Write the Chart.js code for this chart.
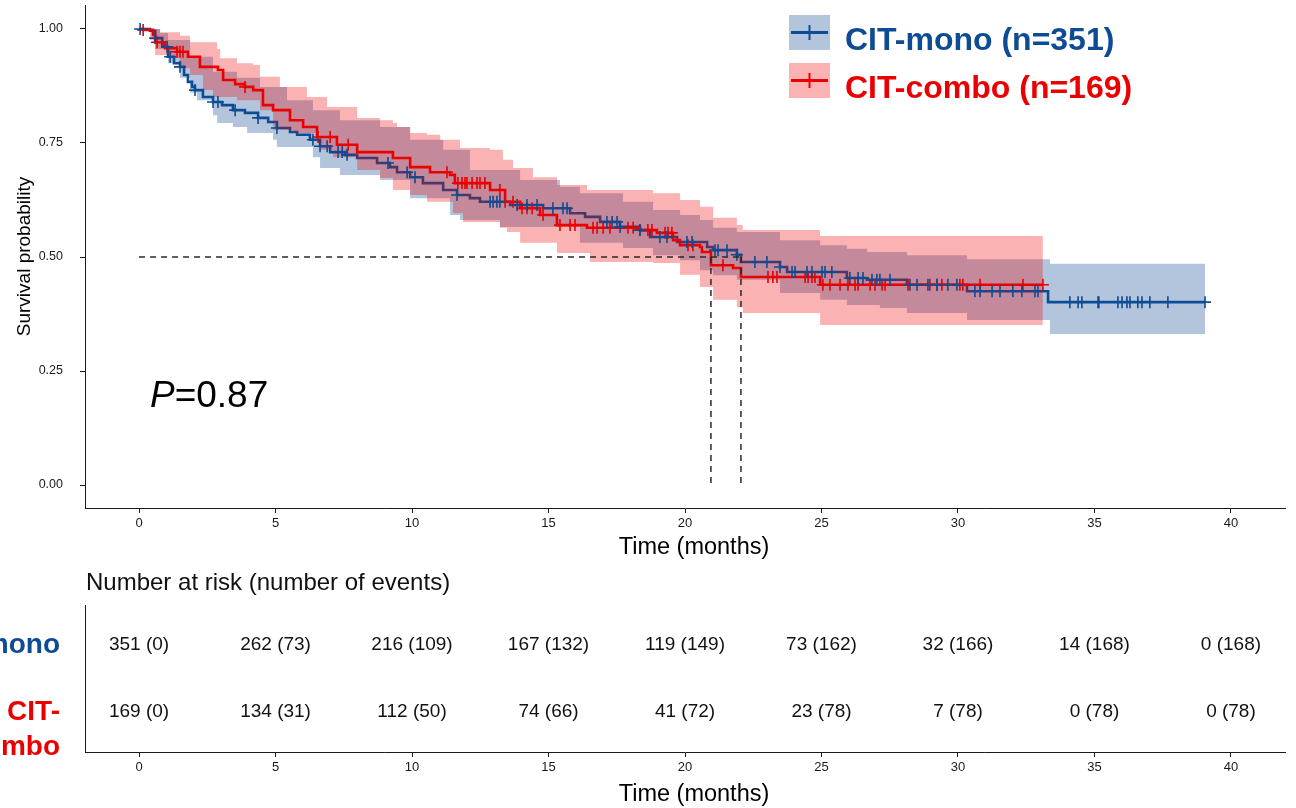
<!DOCTYPE html>
<html><head><meta charset="utf-8">
<script src="https://cdn.jsdelivr.net/npm/chart.js@4.4.1/dist/chart.umd.min.js"></script>
<style>
html,body{margin:0;padding:0;background:#fff;overflow:hidden;width:1296px;height:808px;}
#main{position:absolute;left:0;top:0;width:1296px;height:565px;}
#risk{position:absolute;left:0;top:565px;width:1296px;height:243px;}
</style></head><body>
<canvas id="main" width="1296" height="565"></canvas>
<canvas id="risk" width="1296" height="243"></canvas>
<script>
// ---------------- DATA ----------------
const xTicks = [0,5,10,15,20,25,30,35,40];
const yTicks = [0,0.25,0.5,0.75,1];

const groupLabels = ['CIT-mono (n=351)','CIT-combo (n=169)'];
const xTitle = 'Time (months)';
const yTitle = 'Survival probability';
const riskTitle = 'Number at risk (number of events)';

// Kaplan-Meier step curves (time in months, survival probability)
const monoTime = [0,0.40,0.59,0.85,1.06,1.28,1.50,1.65,1.79,1.94,2.05,2.34,2.71,3.04,3.44,3.88,4.36,4.73,5.05,5.53,5.79,6.26,6.63,7.00,7.55,7.99,8.72,9.19,9.45,9.93,10.40,11.14,11.65,12.12,12.49,13.59,14.80,15.79,16.34,16.89,17.62,18.35,18.72,19.71,20.81,21.03,21.90,22.05,23.48,23.74,25.93,26.67,28.13,30.33,33.30,39.05];
const monoSurv = [1.0,0.996,0.980,0.961,0.939,0.925,0.917,0.899,0.884,0.873,0.866,0.851,0.840,0.833,0.822,0.816,0.805,0.796,0.783,0.774,0.768,0.757,0.743,0.730,0.724,0.717,0.706,0.697,0.686,0.675,0.662,0.647,0.636,0.629,0.621,0.614,0.607,0.596,0.588,0.577,0.566,0.559,0.544,0.533,0.522,0.515,0.505,0.489,0.478,0.467,0.454,0.450,0.439,0.425,0.401,0.401];

const comboTime = [0,0.15,0.51,0.59,0.95,1.39,1.79,2.23,2.89,3.08,3.52,3.88,4.18,4.54,4.91,5.53,6.01,6.52,7.25,7.99,9.30,9.93,10.66,11.39,11.57,12.86,13.41,13.96,14.69,15.31,16.41,18.35,18.97,19.56,19.82,20.55,20.62,20.95,21.76,22.05,24.95,33.11];
const comboSurv = [1.0,0.998,0.987,0.971,0.958,0.950,0.939,0.917,0.910,0.888,0.879,0.873,0.866,0.833,0.822,0.800,0.785,0.763,0.746,0.730,0.717,0.697,0.686,0.680,0.662,0.647,0.621,0.607,0.592,0.570,0.564,0.559,0.553,0.537,0.526,0.522,0.511,0.482,0.476,0.456,0.439,0.439];

// 95% confidence bands
const monoHiTime = [0,0.77,1.06,1.87,2.71,3.59,4.43,5.42,6.37,7.36,8.83,9.93,11.14,12.12,13.96,15.42,16.15,17.73,18.83,19.82,20.55,21.03,21.90,23.48,24.95,25.93,26.67,28.13,30.33,33.37,39.05];
const monoHi = [1.0,0.991,0.976,0.939,0.906,0.893,0.873,0.844,0.822,0.800,0.785,0.757,0.735,0.691,0.669,0.654,0.640,0.621,0.603,0.592,0.581,0.564,0.555,0.537,0.526,0.518,0.511,0.504,0.495,0.485,0.485];
const monoLoTime = [0,0.59,1.06,1.50,1.87,2.12,2.71,2.86,3.44,3.96,4.91,5.05,6.37,6.63,7.36,8.83,9.93,11.39,11.76,13.22,16.15,17.73,18.83,19.82,20.55,21.03,21.90,23.48,24.95,25.93,27.14,28.13,30.33,33.37,39.05];
const monoLo = [1.0,0.956,0.925,0.893,0.860,0.844,0.811,0.794,0.785,0.772,0.757,0.741,0.719,0.695,0.680,0.669,0.629,0.592,0.581,0.566,0.531,0.520,0.504,0.493,0.471,0.460,0.450,0.421,0.406,0.395,0.388,0.377,0.362,0.331,0.331];

const comboHiTime = [0,0.77,1.50,1.87,2.86,2.97,3.59,4.18,4.43,5.16,6.15,6.89,7.99,8.83,9.30,9.45,9.93,10.55,11.03,11.76,12.86,13.33,13.70,14.43,15.31,16.41,18.83,19.82,20.55,21.03,21.90,22.12,24.95,33.11];
const comboHi = [1.0,0.993,0.985,0.971,0.956,0.936,0.925,0.921,0.895,0.873,0.851,0.829,0.805,0.800,0.794,0.785,0.772,0.768,0.757,0.739,0.735,0.713,0.695,0.675,0.658,0.647,0.640,0.625,0.610,0.586,0.570,0.559,0.546,0.546];
const comboLoTime = [0,0.40,0.59,1.14,1.50,1.87,2.34,2.71,3.59,4.43,4.91,5.64,6.63,7.11,7.99,8.83,9.30,9.93,10.55,11.50,11.87,13.22,13.48,13.96,15.31,16.52,18.83,19.82,20.55,21.03,21.90,22.12,24.95,33.11];
const comboLo = [1.0,0.976,0.943,0.936,0.914,0.899,0.866,0.851,0.844,0.822,0.779,0.772,0.735,0.719,0.691,0.673,0.647,0.636,0.621,0.596,0.577,0.564,0.555,0.531,0.509,0.489,0.487,0.461,0.434,0.406,0.390,0.377,0.351,0.351];

// Censoring times
const monoCensor = [0.04,0.59,1.03,1.14,1.50,2.05,2.71,2.89,3.52,4.36,5.05,6.37,6.63,6.89,7.29,7.44,7.62,9.12,9.82,10.11,11.65,12.86,12.97,13.11,13.22,13.85,14.21,14.58,15.16,15.53,15.68,17.14,17.33,17.51,17.62,18.35,19.08,19.34,20.07,20.26,21.10,21.21,21.54,21.90,22.56,23.00,23.48,23.92,24.03,24.47,24.65,25.02,25.13,25.38,26.04,26.34,26.52,26.85,27.03,27.14,27.51,28.24,28.50,28.90,29.23,29.63,29.96,30.62,30.81,31.25,31.54,32.01,32.34,32.82,32.93,34.10,34.40,34.54,35.13,35.16,35.86,36.01,36.19,36.30,36.59,36.74,37.03,37.69,39.05];
const comboCensor = [0.15,0.66,1.39,1.50,1.61,3.88,6.56,7.00,7.66,11.28,11.68,11.83,11.94,12.01,12.20,12.38,12.49,12.67,13.22,13.41,13.70,14.03,14.21,14.40,14.80,15.42,15.79,15.97,16.63,16.78,17.00,17.25,17.91,18.10,18.35,18.64,18.79,19.27,19.38,19.52,20.11,20.29,21.39,23.04,23.22,23.37,24.40,24.51,24.65,24.76,25.05,25.31,25.68,25.97,26.23,26.34,26.78,26.96,27.22,27.33,28.17,28.97,29.23,29.41,30.07,30.18,30.81,32.38,33.11];

// Median survival
const medianLevel = 0.5;
const medians = [20.95, 22.05];
const pValueText = '=0.87';
const pValuePos = [0.4, 0.17];

// Number at risk table
const riskTimes = [0,5,10,15,20,25,30,35,40];
const monoRisk = [351,262,216,167,119,73,32,14,0];
const monoEvents = [0,73,109,132,149,162,166,168,168];
const comboRisk = [169,134,112,74,41,23,7,0,0];
const comboEvents = [0,31,50,66,72,78,78,78,78];

// ---------------- STYLE ----------------
const FONT = '"Liberation Sans", Arial, Helvetica, sans-serif';
const monoColor = '#0D4C94';
const comboColor = '#EA0000';
const monoBand = 'rgba(16,76,150,0.32)';
const comboBand = 'rgba(240,0,0,0.30)';
const axisColor = '#1a1a1a';
const TITLE_X = 694;
Chart.defaults.font.family = FONT;

const toXY = (ts, ss) => ts.map((t, i) => ({x: t, y: ss[i]}));
function survAt(ts, ss, t) {
  let v = ss[0];
  for (let i = 0; i < ts.length; i++) { if (ts[i] <= t + 1e-9) v = ss[i]; else break; }
  return v;
}
const censorXY = (cs, ts, ss) => cs.map(t => ({x: t, y: survAt(ts, ss, t)}));

const X_MIN = -1.98, X_MAX = 41.98;

const lineDs = (data, color, order) => ({data, borderColor: color, borderWidth: 2.6, pointRadius: 0, stepped: 'before', fill: false, order});
const bandDs = (data, color, order, fill) => ({data, borderWidth: 0, borderColor: 'rgba(0,0,0,0)', backgroundColor: color, pointRadius: 0, stepped: 'before', fill, order});
const dashDs = (data) => ({data, borderColor: '#2a2a2a', borderWidth: 1.5, borderDash: [6, 5], pointRadius: 0, fill: false, order: 0});
const censorDs = (data, color) => ({data, showLine: false, pointStyle: 'cross', pointRadius: 6, pointBorderWidth: 1.6, borderColor: color, backgroundColor: color, order: 1});

function drawXTitle(chart, cy) {
  const ctx = chart.ctx;
  ctx.save();
  ctx.fillStyle = '#000';
  ctx.font = '23.5px ' + FONT;
  ctx.textAlign = 'center';
  ctx.textBaseline = 'middle';
  ctx.fillText(xTitle, TITLE_X, cy);
  ctx.restore();
}

const mainPlugin = {
  id: 'mainDecor',
  afterDraw(chart) {
    const ctx = chart.ctx;
    const xs = chart.scales.x, ys = chart.scales.y;
    drawXTitle(chart, 548);
    ctx.save();
    // legend
    const items = [
      {label: groupLabels[0], color: monoColor, band: monoBand, y0: 15},
      {label: groupLabels[1], color: comboColor, band: comboBand, y0: 63}
    ];
    items.forEach(it => {
      ctx.fillStyle = it.band;
      ctx.fillRect(789, it.y0, 41, 35);
      ctx.strokeStyle = it.color;
      ctx.lineWidth = 3;
      ctx.beginPath(); ctx.moveTo(791, it.y0 + 17.5); ctx.lineTo(828, it.y0 + 17.5); ctx.stroke();
      ctx.lineWidth = 2;
      ctx.beginPath(); ctx.moveTo(809.5, it.y0 + 10); ctx.lineTo(809.5, it.y0 + 25); ctx.stroke();
      ctx.fillStyle = it.color;
      ctx.font = 'bold 32px ' + FONT;
      ctx.textAlign = 'left';
      ctx.textBaseline = 'alphabetic';
      ctx.fillText(it.label, 845, it.y0 + 35);
    });
    // p value
    const px = xs.getPixelForValue(pValuePos[0]);
    const py = ys.getPixelForValue(pValuePos[1]);
    ctx.fillStyle = '#000';
    ctx.font = 'italic 37px ' + FONT;
    ctx.fillText('P', px, py);
    const w = ctx.measureText('P').width;
    ctx.font = '37px ' + FONT;
    ctx.fillText(pValueText, px + w, py);
    ctx.restore();
  }
};

new Chart(document.getElementById('main'), {
  type: 'line',
  data: {
    datasets: [
      dashDs([{x: 0, y: medianLevel}, {x: medians[1], y: medianLevel}]),
      dashDs([{x: medians[0], y: medianLevel}, {x: medians[0], y: 0}]),
      dashDs([{x: medians[1], y: medianLevel}, {x: medians[1], y: 0}]),
      censorDs(censorXY(monoCensor, monoTime, monoSurv), monoColor),
      censorDs(censorXY(comboCensor, comboTime, comboSurv), comboColor),
      lineDs(toXY(comboTime, comboSurv), comboColor, 2),
      bandDs(toXY(comboHiTime, comboHi), comboBand, 3, '+1'),
      bandDs(toXY(comboLoTime, comboLo), comboBand, 3, false),
      lineDs(toXY(monoTime, monoSurv), monoColor, 4),
      bandDs(toXY(monoHiTime, monoHi), monoBand, 5, '+1'),
      bandDs(toXY(monoLoTime, monoLo), monoBand, 5, false)
    ]
  },
  options: {
    responsive: false,
    animation: false,
    events: [],
    layout: {autoPadding: false, padding: {left: 0, right: 11, top: 5, bottom: 0}},
    plugins: {legend: {display: false}, tooltip: {enabled: false}, title: {display: false}},
    scales: {
      x: {
        type: 'linear', min: X_MIN, max: X_MAX,
        afterBuildTicks: a => { a.ticks = xTicks.map(v => ({value: v})); },
        afterFit: s => { s.height = 57; s.paddingLeft = 0; s.paddingRight = 0; },
        ticks: {font: {size: 13}, color: axisColor, padding: 3, maxRotation: 0, autoSkip: false, callback: v => String(v)},
        grid: {display: true, drawOnChartArea: false, tickLength: 5, color: axisColor},
        border: {display: true, color: axisColor, width: 1},
        title: {display: false}
      },
      y: {
        type: 'linear', min: -0.0504, max: 1.0526,
        afterBuildTicks: a => { a.ticks = yTicks.map(v => ({value: v})); },
        afterFit: s => { s.width = 85; s.paddingTop = 0; s.paddingBottom = 0; },
        ticks: {font: {size: 12.5}, color: axisColor, padding: 17, callback: v => Number(v).toFixed(2)},
        grid: {display: true, drawOnChartArea: false, tickLength: 5, color: axisColor},
        border: {display: true, color: axisColor, width: 1},
        title: {display: true, text: yTitle, font: {size: 19}, color: '#000', padding: {top: 13, bottom: 0}}
      }
    }
  },
  plugins: [mainPlugin]
});

const riskPlugin = {
  id: 'riskTable',
  afterDraw(chart) {
    const ctx = chart.ctx;
    const xs = chart.scales.x, ys = chart.scales.y;
    drawXTitle(chart, 230);
    ctx.save();
    ctx.fillStyle = '#111';
    ctx.font = '24px ' + FONT;
    ctx.textAlign = 'left';
    ctx.textBaseline = 'middle';
    ctx.fillText(riskTitle, 86, 18);
    ctx.font = '19px ' + FONT;
    ctx.textAlign = 'center';
    const yMono = ys.getPixelForValue(2), yCombo = ys.getPixelForValue(1);
    riskTimes.forEach((t, i) => {
      const x = xs.getPixelForValue(t);
      ctx.fillText(monoRisk[i] + ' (' + monoEvents[i] + ')', x, yMono);
      ctx.fillText(comboRisk[i] + ' (' + comboEvents[i] + ')', x, yCombo);
    });
    ctx.font = 'bold 28px ' + FONT;
    ctx.textAlign = 'right';
    ctx.fillStyle = monoColor;
    ctx.fillText('CIT-mono', 60, yMono);
    ctx.fillStyle = comboColor;
    ctx.fillText('CIT-', 60, yCombo);
    ctx.fillText('combo', 60, yCombo + 35);
    ctx.restore();
  }
};

new Chart(document.getElementById('risk'), {
  type: 'line',
  data: {datasets: []},
  options: {
    responsive: false,
    animation: false,
    events: [],
    layout: {autoPadding: false, padding: {left: 0, right: 11, top: 40, bottom: 0}},
    plugins: {legend: {display: false}, tooltip: {enabled: false}},
    scales: {
      x: {
        type: 'linear', min: X_MIN, max: X_MAX,
        afterBuildTicks: a => { a.ticks = xTicks.map(v => ({value: v})); },
        afterFit: s => { s.height = 56; s.paddingLeft = 0; s.paddingRight = 0; },
        ticks: {font: {size: 13}, color: axisColor, padding: 3, maxRotation: 0, autoSkip: false, callback: v => String(v)},
        grid: {display: true, drawOnChartArea: false, tickLength: 5, color: axisColor},
        border: {display: true, color: axisColor, width: 1},
        title: {display: false}
      },
      y: {
        type: 'linear', min: 0.4, max: 2.6,
        afterFit: s => { s.width = 85; s.paddingTop = 0; s.paddingBottom = 0; },
        ticks: {display: false},
        grid: {display: false},
        border: {display: true, color: axisColor, width: 1}
      }
    }
  },
  plugins: [riskPlugin]
});
</script>
</body></html>
